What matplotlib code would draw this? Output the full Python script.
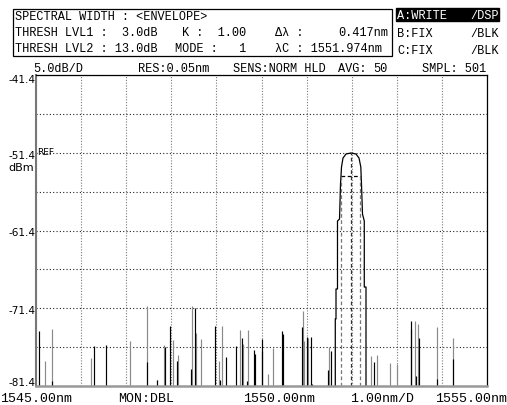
import matplotlib
matplotlib.use("Agg")
import matplotlib.pyplot as plt
from matplotlib.patches import Rectangle

W, H = 507, 406

# trace A, main carrier (nm / dBm)
peak_nm = [1551.636, 1551.636, 1551.652, 1551.652, 1551.685, 1551.685, 1551.730,
           1551.752, 1551.774, 1551.807, 1551.874, 1551.984, 1552.095, 1552.162,
           1552.202, 1552.217, 1552.239, 1552.279, 1552.279, 1552.317, 1552.317]
peak_dbm = [-81.4, -72.78, -72.78, -68.92, -68.92, -60.18, -59.92,
            -55.42, -53.23, -52.08, -51.56, -51.43, -51.56, -52.08,
            -53.23, -55.42, -59.28, -60.18, -68.67, -68.67, -81.4]

# noise spikes, trace A (black)
black_nm = [1545.073, 1545.361, 1546.279, 1546.559, 1547.468, 1547.676, 1547.860,
            1547.982, 1548.120, 1548.430, 1548.525, 1548.980, 1549.080, 1549.206,
            1549.435, 1549.561, 1549.672, 1549.840, 1549.863, 1550.004, 1550.018,
            1550.461, 1550.483, 1550.898, 1551.009, 1551.098, 1551.120, 1551.481,
            1551.541, 1552.501, 1553.308, 1553.322, 1553.419, 1553.486, 1553.898,
            1554.253]
black_dbm = [-74.29, -80.72, -76.26, -76.13, -78.35, -80.63, -76.42,
             -73.68, -78.15, -79.21, -71.41, -73.68, -80.59, -77.67,
             -76.30, -75.27, -80.72, -76.77, -77.29, -75.36, -76.86,
             -74.29, -74.71, -73.85, -75.06, -75.14, -81.14, -79.30,
             -76.86, -78.35, -73.08, -74.07, -80.08, -75.23, -80.50,
             -77.93]

# noise spikes, traces B/C (grey)
grey_nm = [1545.193, 1545.361, 1546.213, 1547.078, 1547.455, 1547.676, 1547.845,
           1548.031, 1548.142, 1548.452, 1548.541, 1548.652, 1549.058, 1549.131,
           1549.523, 1549.596, 1549.694, 1550.137, 1550.262, 1550.914, 1550.936,
           1551.031, 1551.503, 1552.421, 1552.554, 1552.849, 1552.998, 1553.404,
           1553.463, 1553.885, 1554.246]
grey_dbm = [-78.22, -74.07, -77.80, -75.57, -71.15, -80.63, -76.13,
            -75.45, -77.41, -71.15, -74.58, -75.36, -78.15, -73.72,
            -74.20, -76.00, -74.16, -79.86, -76.51, -71.72, -75.57,
            -75.23, -76.42, -77.58, -77.41, -78.44, -78.57, -73.00,
            -73.43, -73.77, -75.23]

# spectral width result
center_nm = 1551.974
delta_nm = 0.417
thresh_db = 3.0

x_start, x_stop = 1545.0, 1555.0
ref_dbm, db_div = -41.4, 5.0
y_labels = [-41.4, -51.4, -61.4, -71.4, -81.4]
y_bottom = ref_dbm - 8 * db_div

mono = "Liberation Mono"
plt.rcParams["font.family"] = [mono, "DejaVu Sans Mono"]


def fx(x):
    return x / W


def fy(y):
    return 1 - y / H


fig = plt.figure(figsize=(W / 100, H / 100), dpi=100)
ax = fig.add_axes([fx(36), fy(387), (487 - 36) / W, (387 - 76) / H])

ax.set_xlim(x_start, x_stop)
ax.set_ylim(y_bottom, ref_dbm)
ax.set_xticks([x_start + i for i in range(11)])
ax.set_yticks([ref_dbm - i * db_div for i in range(9)])
ax.tick_params(length=0, labelbottom=False, labelleft=False)
ax.xaxis.grid(True, color="#7a7a7a", linestyle=(0, (1, 1.5)), lw=0.8)
ax.yaxis.grid(True, color="#222222", linestyle=(0, (1, 2)), lw=0.8)
ax.set_axisbelow(True)
for s in ["top", "right"]:
    ax.spines[s].set_linewidth(0.9)
ax.spines["left"].set_color("#777777")
ax.spines["left"].set_linewidth(1.5)
ax.spines["bottom"].set_color("#999999")
ax.spines["bottom"].set_linewidth(1.8)

ax.vlines(grey_nm, y_bottom, grey_dbm, colors="#8a8a8a", lw=0.85)
ax.vlines(black_nm, y_bottom, black_dbm, colors="black", lw=0.85)

ax.plot(peak_nm, peak_dbm, color="black", lw=0.9)

# threshold markers
thr_level = max(peak_dbm) - thresh_db
left_nm = center_nm - delta_nm / 2
right_nm = center_nm + delta_nm / 2
ax.vlines([left_nm, right_nm], y_bottom, thr_level, colors="#777777",
          lw=0.9, linestyles=(0, (3, 2)))
ax.vlines(center_nm, y_bottom, max(peak_dbm), colors="#333333",
          lw=0.9, linestyles=(0, (3, 2)))
ax.hlines(thr_level, left_nm, right_nm, colors="black", lw=0.9,
          linestyles=(0, (3, 2)))

for v in y_labels:
    off = -0.25
    if v == ref_dbm:
        off = -0.55
    if v == y_bottom:
        off = 0.5
    ax.text(-0.002, v + off, f"{v:.1f}", transform=ax.get_yaxis_transform(),
            ha="right", va="center", fontsize=7.5, family="DejaVu Sans")
ax.text(0.003, -51.4 + 0.1, "REF", transform=ax.get_yaxis_transform(),
        ha="left", va="center", fontsize=6.5, family="DejaVu Sans")
fig.text(fx(34), fy(168), "dBm", ha="right", va="center", fontsize=8,
         family="DejaVu Sans")

# header box
fig.add_artist(Rectangle((fx(12.7), fy(57.3)), (391.7 - 12.7) / W, (57.3 - 10) / H,
                         transform=fig.transFigure, fill=False, lw=0.9,
                         edgecolor="black"))
fs = 8.6
fig.text(fx(15), fy(17), "SPECTRAL WIDTH : <ENVELOPE>", va="center", fontsize=fs)
fig.text(fx(15), fy(33), "THRESH LVL1 :  3.0dB", va="center", fontsize=fs)
fig.text(fx(15), fy(49.5), "THRESH LVL2 : 13.0dB", va="center", fontsize=fs)
fig.text(fx(182), fy(33), "K :  1.00", va="center", fontsize=fs)
fig.text(fx(175), fy(49.5), "MODE :   1", va="center", fontsize=fs)
fig.text(fx(275), fy(33), "\u0394\u03bb :", va="center", fontsize=fs)
fig.text(fx(388), fy(33), f"{delta_nm:.3f}nm", ha="right", va="center", fontsize=fs)
fig.text(fx(275), fy(49.5), f"\u03bbC : {center_nm:.3f}nm", va="center", fontsize=fs)

# trace status panel
fig.add_artist(Rectangle((fx(396), fy(22)), (499 - 396) / W, 13 / H,
                         transform=fig.transFigure, color="black"))
fig.text(fx(397), fy(16), "A:WRITE", va="center", fontsize=fs, color="white")
fig.text(fx(499), fy(16), "/DSP", ha="right", va="center", fontsize=fs, color="white")
fig.text(fx(397), fy(34), "B:FIX", va="center", fontsize=fs)
fig.text(fx(499), fy(34), "/BLK", ha="right", va="center", fontsize=fs)
fig.text(fx(397), fy(51), "C:FIX", va="center", fontsize=fs)
fig.text(fx(499), fy(51), "/BLK", ha="right", va="center", fontsize=fs)

# settings line
fig.text(fx(33), fy(68.5), "5.0dB/D", va="center", fontsize=fs)
fig.text(fx(138), fy(68.5), "RES:0.05nm", va="center", fontsize=fs)
fig.text(fx(233), fy(68.5), "SENS:NORM HLD", va="center", fontsize=fs)
fig.text(fx(338), fy(68.5), "AVG:", va="center", fontsize=fs)
fig.text(fx(387), fy(68.5), "50", ha="right", va="center", fontsize=fs)
fig.text(fx(422), fy(68.5), "SMPL: 501", va="center", fontsize=fs)

# bottom line
fb = 9.5
fig.text(fx(0), fy(399), f"{x_start:.2f}nm", va="center", fontsize=fb)
fig.text(fx(118), fy(399), "MON:DBL", va="center", fontsize=fb)
fig.text(fx(243), fy(399), f"{(x_start + x_stop) / 2:.2f}nm", va="center", fontsize=fb)
fig.text(fx(350), fy(399), "1.00nm/D", va="center", fontsize=fb)
fig.text(fx(507), fy(399), f"{x_stop:.2f}nm", ha="right", va="center", fontsize=fb)

fig.savefig("out.png", dpi=100)
